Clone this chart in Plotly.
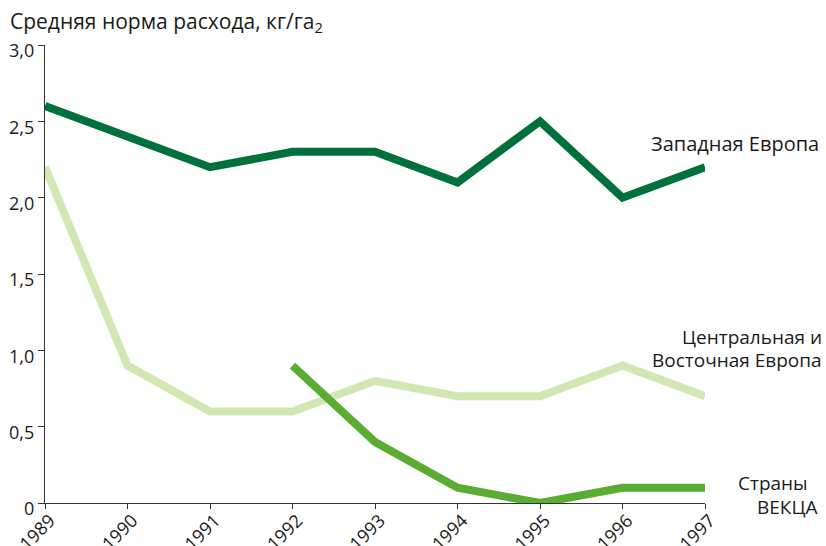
import plotly.graph_objects as go

years = [1989, 1990, 1991, 1992, 1993, 1994, 1995, 1996, 1997]
west = [2.6, 2.4, 2.2, 2.3, 2.3, 2.1, 2.5, 2.0, 2.2]
central = [2.2, 0.9, 0.6, 0.6, 0.8, 0.7, 0.7, 0.9, 0.7]
eecca_years = [1992, 1993, 1994, 1995, 1996, 1997]
eecca = [0.9, 0.4, 0.1, 0.0, 0.1, 0.1]
ytick_vals = [0, 0.5, 1.0, 1.5, 2.0, 2.5, 3.0]
ytick_text = ["0", "0,5", "1,0", "1,5", "2,0", "2,5", "3,0"]

FONT = "Open Sans"
W, H = 826, 546
L, T, PW, PH = 45, 45, 660, 458  # plot area in page px


def px(xp):
    return (xp - L) / PW


def py(yp):
    return (T + PH - yp) / PH


fig = go.Figure()
fig.add_trace(go.Scatter(x=years, y=central, mode="lines",
                         line=dict(color="#d2e8b2", width=8), hoverinfo="skip"))
fig.add_trace(go.Scatter(x=eecca_years, y=eecca, mode="lines",
                         line=dict(color="#5aac32", width=8), hoverinfo="skip"))
fig.add_trace(go.Scatter(x=years, y=west, mode="lines",
                         line=dict(color="#00713a", width=8), hoverinfo="skip"))

fig.update_layout(
    width=W, height=H,
    margin=dict(l=L, r=W - L - PW, t=T, b=H - T - PH, autoexpand=False),
    paper_bgcolor="white", plot_bgcolor="white",
    showlegend=False,
    font=dict(family=FONT, color="#1a1a1a", size=16),
    xaxis=dict(range=[1989, 1997], tickvals=years, ticktext=[str(y) for y in years],
               tickangle=-45, ticks="outside", ticklen=5, tickcolor="#333",
               ticklabelstandoff=-6, ticklabelshift=5,
               showline=True, linecolor="#333", linewidth=1.2, showgrid=False,
               zeroline=False, automargin=False, tickfont=dict(size=18, family=FONT)),
    yaxis=dict(range=[0, 3], tickvals=ytick_vals, ticktext=ytick_text,
               ticks="outside", ticklen=6, tickcolor="#333", ticklabelshift=6,
               showline=True, linecolor="#333", linewidth=1.2, showgrid=False,
               zeroline=False, automargin=False, tickfont=dict(size=18, family=FONT)),
)


def label(text, x, y, xanchor, size=20):
    fig.add_annotation(xref="paper", yref="paper", x=px(x), y=py(y),
                       xanchor=xanchor, yanchor="middle", showarrow=False,
                       align="right" if xanchor == "right" else "left",
                       text=text, font=dict(size=size, family=FONT, color="#1a1a1a"))


label("Средняя норма расхода, кг/га<sub>2</sub>", 8, 22, "left", size=21)
label("Западная Европа", 821, 143, "right")
label("Центральная и", 824, 337, "right", size=19)
label("Восточная Европа", 824, 360, "right", size=19)
label("Страны", 773, 483, "center", size=19)
label("ВЕКЦА", 787, 507, "center", size=19)

fig.write_html("out.html", config={"displayModeBar": False},
               post_script="document.body.style.margin='0';document.body.style.overflow='hidden';")
